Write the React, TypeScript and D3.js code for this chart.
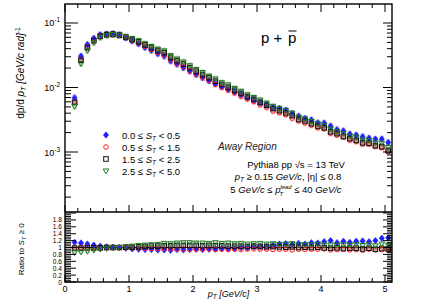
import React from 'react';
import * as d3 from 'd3';

const FONT = '"Liberation Sans", Arial, Helvetica, sans-serif';

// pT bin centres (GeV/c)
const ptCenters = [
  0.15, 0.25, 0.35, 0.45, 0.55, 0.65, 0.75, 0.85, 0.95, 1.05,
  1.15, 1.25, 1.35, 1.45, 1.55, 1.65, 1.75, 1.85, 1.95, 2.05,
  2.15, 2.25, 2.35, 2.45, 2.55, 2.65, 2.75, 2.85, 2.95, 3.05,
  3.15, 3.25, 3.35, 3.45, 3.55, 3.65, 3.75, 3.85, 3.95, 4.05,
  4.15, 4.25, 4.35, 4.45, 4.55, 4.65, 4.75, 4.85, 4.95, 5.05,
];

// S_T >= 0 reference spectrum, dp/dpT
const yieldAll = [
  0.0060, 0.027, 0.042, 0.054, 0.063, 0.066, 0.067, 0.065, 0.060, 0.055,
  0.050, 0.0445, 0.040, 0.036, 0.033, 0.028, 0.0245, 0.0218, 0.0191, 0.0168,
  0.0151, 0.0134, 0.0119, 0.0106, 0.0097, 0.0087, 0.0078, 0.0070, 0.0063, 0.0057,
  0.0052, 0.0046, 0.0043, 0.0040, 0.0036, 0.0032, 0.0030, 0.00275, 0.0025, 0.0024,
  0.0021, 0.00195, 0.0018, 0.00165, 0.00155, 0.00145, 0.0014, 0.00132, 0.00125, 0.0011,
];

// ratios to S_T >= 0
const ratioSt05 = [
  1.15, 1.13, 1.10, 1.07, 1.04, 1.02, 1.01, 1.00, 0.98, 0.96,
  0.95, 0.94, 0.94, 0.93, 0.93, 0.92, 0.94, 0.93, 0.94, 0.95,
  0.94, 0.95, 0.96, 0.97, 0.97, 0.98, 1.00, 1.00, 1.02, 1.03,
  1.04, 1.06, 1.10, 1.11, 1.09, 1.12, 1.10, 1.14, 1.13, 1.17,
  1.20, 1.14, 1.18, 1.15, 1.18, 1.19, 1.17, 1.20, 1.27, 1.28,
];
const ratioSt15 = [
  1.00, 1.00, 1.01, 1.00, 1.00, 1.00, 1.00, 1.00, 0.99, 0.99,
  0.98, 0.98, 0.97, 0.97, 0.96, 0.96, 0.95, 0.96, 0.95, 0.95,
  0.95, 0.96, 0.94, 0.95, 0.94, 0.95, 0.94, 0.95, 0.96, 0.95,
  0.95, 0.94, 0.95, 0.95, 0.93, 0.95, 0.94, 0.95, 0.95, 0.96,
  0.93, 0.94, 0.95, 0.93, 0.94, 0.92, 0.95, 0.93, 0.94, 0.92,
];
const ratioSt25 = [
  0.98, 0.98, 0.99, 0.99, 0.99, 1.00, 1.00, 1.00, 1.01, 1.01,
  1.02, 1.03, 1.04, 1.04, 1.05, 1.05, 1.06, 1.06, 1.06, 1.06,
  1.05, 1.06, 1.05, 1.05, 1.04, 1.04, 1.04, 1.03, 1.04, 1.03,
  1.02, 1.03, 1.02, 1.01, 1.02, 1.00, 1.01, 1.00, 1.01, 0.99,
  0.98, 0.99, 0.97, 0.98, 0.98, 0.96, 0.98, 0.95, 0.97, 0.96,
];
const ratioSt50 = [
  0.85, 0.87, 0.89, 0.92, 0.95, 0.97, 0.99, 1.00, 1.02, 1.04,
  1.06, 1.07, 1.08, 1.09, 1.12, 1.11, 1.13, 1.14, 1.14, 1.13,
  1.13, 1.12, 1.14, 1.12, 1.13, 1.11, 1.12, 1.10, 1.11, 1.12,
  1.10, 1.11, 1.09, 1.10, 1.11, 1.08, 1.09, 1.08, 1.10, 1.07,
  1.08, 1.06, 1.08, 1.07, 1.09, 1.06, 1.08, 1.05, 1.10, 1.07,
];

const seriesLow = ['0.0', '0.5', '1.5', '2.5'];
const seriesHigh = ['0.5', '1.5', '2.5', '5.0'];
const seriesColors = ['#1f1fff', '#ff2020', '#111111', '#1e7a1e'];
const seriesMarkers = ['diamond', 'circle', 'square', 'triangle'];
const seriesRatios = [ratioSt05, ratioSt15, ratioSt25, ratioSt50];

const xTicks = [0, 1, 2, 3, 4, 5];
const ratioTickLabels = [0, 0.2, 0.4, 0.6, 0.8, 1, 1.2, 1.4, 1.6, 1.8];
const decadeExponents = [-1, -2, -3];

const W = 436;
const H = 305;
const L = 65;
const R = 392;
const T = 4;
const MID = 212;
const B = 282;

const Marker: React.FC<{ kind: string; x: number; y: number; color: string }> = ({ kind, x, y, color }) => {
  if (kind === 'circle') {
    return <circle cx={x} cy={y} r={2.3} fill="none" stroke={color} strokeWidth={1} />;
  }
  if (kind === 'square') {
    return <rect x={x - 2.3} y={y - 2.3} width={4.6} height={4.6} fill="none" stroke={color} strokeWidth={1} />;
  }
  if (kind === 'triangle') {
    return <path d={`M${x - 2.8},${y - 2} L${x + 2.8},${y - 2} L${x},${y + 2.8} Z`} fill="none" stroke={color} strokeWidth={1} />;
  }
  return <path d={`M${x},${y - 3.2} L${x + 2.6},${y} L${x},${y + 3.2} L${x - 2.6},${y} Z`} fill={color} stroke={color} strokeWidth={0.6} />;
};

const App: React.FC = () => {
  const x = d3.scaleLinear().domain([0, (R - L) / 64]).range([L, R]);
  const y = d3.scaleLog().domain([1.175e-4, 0.197]).range([MID, T]);
  const yr = d3.scaleLinear().domain([0, 2.03]).range([B, MID]);

  const minorX = d3.range(0, 5.11, 0.2).filter(v => Math.abs(v - Math.round(v)) > 0.01);
  const logMinor: number[] = [];
  [-4, -3, -2, -1].forEach(e => {
    for (let k = 2; k <= 9; k++) {
      const v = k * Math.pow(10, e);
      if (v > 1.175e-4 && v < 0.197) logMinor.push(v);
    }
  });
  const ratioMinor = d3.range(0, 2.03, 0.05).filter(v => Math.abs(v / 0.2 - Math.round(v / 0.2)) > 0.01);
  const ratioMajor = d3.range(0, 2.03, 0.2);

  const boxW = x(0.07) - x(0);

  return (
    <svg width={W} height={H} style={{ position: 'absolute', left: 0, top: 0, background: '#fff' }} fontFamily={FONT}>
      <rect x={0} y={0} width={W} height={H} fill="#fff" />

      {/* systematic boxes */}
      {seriesRatios.map((ratios, s) => (
        <g key={`box${s}`} fill={seriesColors[s]} fillOpacity={0.22}>
          {ptCenters.map((pt, i) => {
            const v = yieldAll[i] * ratios[i];
            return <rect key={i} x={x(pt) - boxW / 2} y={y(v * 1.13)} width={boxW} height={y(v / 1.13) - y(v * 1.13)} />;
          })}
          {ptCenters.map((pt, i) => (
            <rect key={`r${i}`} x={x(pt) - boxW / 2} y={yr(ratios[i] + 0.05)} width={boxW} height={yr(ratios[i] - 0.05) - yr(ratios[i] + 0.05)} />
          ))}
        </g>
      ))}

      {/* ratio reference line */}
      <line x1={L} x2={R} y1={yr(1)} y2={yr(1)} stroke="#000" strokeWidth={1} />

      {/* markers */}
      {seriesRatios.map((ratios, s) => (
        <g key={`m${s}`}>
          {ptCenters.map((pt, i) => (
            <Marker key={i} kind={seriesMarkers[s]} x={x(pt)} y={y(yieldAll[i] * ratios[i])} color={seriesColors[s]} />
          ))}
          {ptCenters.map((pt, i) => (
            <Marker key={`r${i}`} kind={seriesMarkers[s]} x={x(pt)} y={yr(ratios[i])} color={seriesColors[s]} />
          ))}
        </g>
      ))}

      {/* frames */}
      <rect x={L} y={T} width={R - L} height={B - T} fill="none" stroke="#000" strokeWidth={1.4} />
      <line x1={L} x2={R} y1={MID} y2={MID} stroke="#000" strokeWidth={1.4} />

      {/* x ticks: top edge, middle line, bottom */}
      <g stroke="#000" strokeWidth={1}>
        {xTicks.map(v => (
          <g key={`xt${v}`}>
            <line x1={x(v)} x2={x(v)} y1={T} y2={T + 8} />
            <line x1={x(v)} x2={x(v)} y1={MID} y2={MID - 7} />
            <line x1={x(v)} x2={x(v)} y1={B} y2={B - 7} />
          </g>
        ))}
        {minorX.map(v => (
          <g key={`xm${v}`}>
            <line x1={x(v)} x2={x(v)} y1={T} y2={T + 4} />
            <line x1={x(v)} x2={x(v)} y1={MID} y2={MID - 4} />
            <line x1={x(v)} x2={x(v)} y1={B} y2={B - 4} />
          </g>
        ))}
      </g>

      {/* log y ticks */}
      <g stroke="#000" strokeWidth={1}>
        {decadeExponents.map(e => (
          <g key={`yd${e}`}>
            <line x1={L} x2={L + 13} y1={y(Math.pow(10, e))} y2={y(Math.pow(10, e))} />
            <line x1={R} x2={R - 9} y1={y(Math.pow(10, e))} y2={y(Math.pow(10, e))} />
          </g>
        ))}
        {logMinor.map(v => (
          <g key={`ym${v}`}>
            <line x1={L} x2={L + 6} y1={y(v)} y2={y(v)} />
            <line x1={R} x2={R - 5} y1={y(v)} y2={y(v)} />
          </g>
        ))}
      </g>

      {/* ratio y ticks */}
      <g stroke="#000" strokeWidth={1}>
        {ratioMajor.map(v => (
          <g key={`rt${v}`}>
            <line x1={L} x2={L + 11} y1={yr(v)} y2={yr(v)} />
            <line x1={R} x2={R - 9} y1={yr(v)} y2={yr(v)} />
          </g>
        ))}
        {ratioMinor.map(v => (
          <g key={`rm${v}`}>
            <line x1={L} x2={L + 6} y1={yr(v)} y2={yr(v)} />
            <line x1={R} x2={R - 5} y1={yr(v)} y2={yr(v)} />
          </g>
        ))}
      </g>

      {/* tick labels */}
      {decadeExponents.map(e => (
        <text key={`yl${e}`} x={L - 5} y={y(Math.pow(10, e)) + 3.5} fontSize={9} textAnchor="end" fill="#000">
          10<tspan fontSize={6.5} dy={-4}>{e}</tspan>
        </text>
      ))}
      {ratioTickLabels.map(v => (
        <text key={`rl${v}`} x={L - 3} y={yr(v) + 2.5} fontSize={6.6} textAnchor="end" fill="#000">
          {v}
        </text>
      ))}
      {xTicks.map(v => (
        <text key={`xl${v}`} x={x(v)} y={B + 10} fontSize={9} textAnchor="middle" fill="#000">
          {v}
        </text>
      ))}

      {/* axis titles */}
      <text x={(L + R) / 2} y={297} fontSize={9} textAnchor="middle" fill="#000">
        <tspan fontStyle="italic">p</tspan>
        <tspan fontSize={6.5} dy={2} fontStyle="italic">T</tspan>
        <tspan dy={-2} fontStyle="italic"> [GeV/c]</tspan>
      </text>
      <text transform="translate(24,27) rotate(-90)" fontSize={10} textAnchor="end" fill="#000">
        <tspan>dp/d </tspan>
        <tspan fontStyle="italic">p</tspan>
        <tspan fontSize={7} dy={2} fontStyle="italic">T</tspan>
        <tspan dy={-2} fontStyle="italic"> [GeV/c rad]</tspan>
        <tspan fontSize={7} dy={-4}>-1</tspan>
      </text>
      <text transform={`translate(24,${yr(0.95)}) rotate(-90)`} fontSize={8} textAnchor="middle" fill="#000">
        <tspan>Ratio to </tspan>
        <tspan fontStyle="italic">S</tspan>
        <tspan fontSize={6} dy={2} fontStyle="italic">T</tspan>
        <tspan dy={-2}> ≥ 0</tspan>
      </text>

      {/* legend */}
      {seriesLow.map((lo, s) => {
        const ly = 135 + s * 12;
        return (
          <g key={`lg${s}`}>
            <Marker kind={seriesMarkers[s]} x={106} y={ly} color={seriesColors[s]} />
            <text x={122} y={ly + 3.5} fontSize={9.5} fill="#000">
              {lo} ≤ <tspan fontStyle="italic">S</tspan>
              <tspan fontSize={6.5} dy={2} fontStyle="italic">T</tspan>
              <tspan dy={-2}> &lt; {seriesHigh[s]}</tspan>
            </text>
          </g>
        );
      })}

      {/* annotations */}
      <text x={261} y={43} fontSize={15} fill="#000">p +</text>
      <text x={288} y={43} fontSize={15} fill="#000">p</text>
      <line x1={288.5} x2={296.5} y1={31} y2={31} stroke="#000" strokeWidth={1} />
      <text x={218} y={150} fontSize={10} fontStyle="italic" fill="#222">Away Region</text>
      <text x={296} y={168} fontSize={9.5} textAnchor="middle" fill="#000">
        Pythia8 pp √s = 13 TeV
      </text>
      <text x={288} y={180} fontSize={9.5} textAnchor="middle" fill="#000">
        <tspan fontStyle="italic">p</tspan>
        <tspan fontSize={6.5} dy={2} fontStyle="italic">T</tspan>
        <tspan dy={-2}> ≥ 0.15 </tspan>
        <tspan fontStyle="italic">GeV/c</tspan>
        <tspan>, |η| ≤ 0.8</tspan>
      </text>
      <text x={286} y={193} fontSize={9.5} textAnchor="middle" fill="#000">
        <tspan>5 </tspan>
        <tspan fontStyle="italic">GeV/c</tspan>
        <tspan> ≤  </tspan>
        <tspan fontStyle="italic">p</tspan>
        <tspan fontSize={6} dy={2.5} dx={-1} fontStyle="italic">T</tspan>
        <tspan fontSize={6} dy={-7} dx={-3} fontStyle="italic">lead</tspan>
        <tspan dy={4.5}> ≤ 40 </tspan>
        <tspan fontStyle="italic">GeV/c</tspan>
      </text>
    </svg>
  );
};

export default App;
